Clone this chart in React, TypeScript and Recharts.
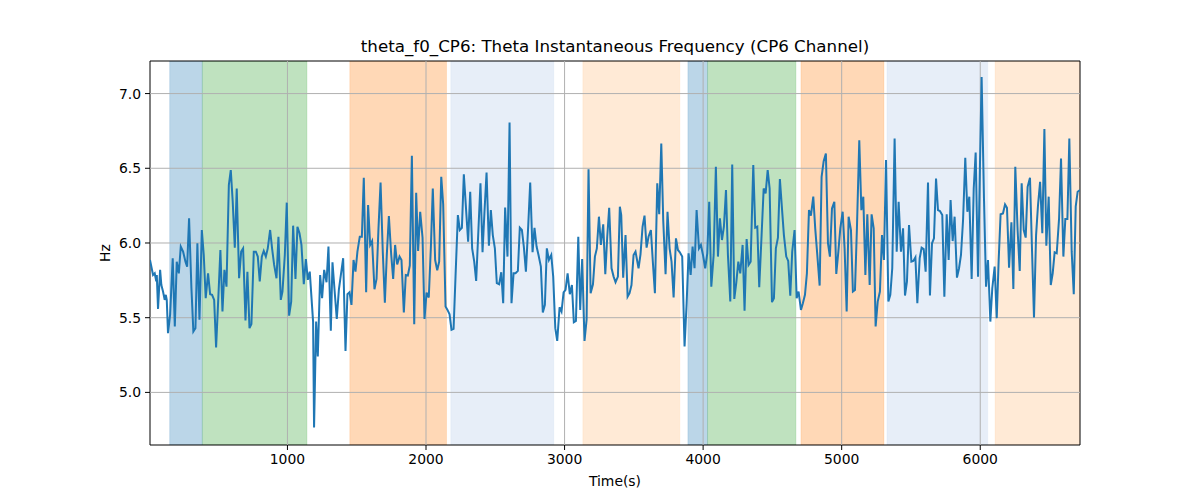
import React from "react";
import {
  LineChart,
  Line,
  XAxis,
  YAxis,
  ReferenceArea,
  ReferenceLine,
} from "recharts";

// time (s) of each sample
const times = [
  8, 30, 42, 49, 57, 66, 81, 90, 102, 114, 122, 129, 138, 153, 172, 187, 201, 216, 230, 247,
  264, 276, 290, 307, 321, 336, 350, 365, 382, 396, 410, 427, 442, 456, 471, 485, 502, 516, 531, 545,
  560, 577, 591, 605, 620, 634, 651, 666, 680, 697, 711, 726, 740, 757, 772, 786, 800, 815, 829, 844,
  858, 875, 889, 904, 921, 935, 952, 964, 981, 995, 1012, 1027, 1041, 1058, 1072, 1087, 1101, 1118, 1133, 1147,
  1161, 1185, 1192, 1207, 1219, 1236, 1250, 1265, 1282, 1296, 1313, 1325, 1339, 1356, 1371, 1387, 1402, 1419, 1433, 1448,
  1462, 1477, 1491, 1505, 1522, 1537, 1551, 1568, 1582, 1597, 1611, 1628, 1643, 1657, 1672, 1688, 1703, 1717, 1732, 1749,
  1763, 1777, 1792, 1809, 1823, 1840, 1854, 1869, 1883, 1898, 1915, 1929, 1943, 1958, 1975, 1989, 2004, 2020, 2035, 2049,
  2066, 2081, 2095, 2110, 2124, 2141, 2155, 2170, 2184, 2199, 2213, 2230, 2244, 2259, 2273, 2304, 2319, 2333, 2348, 2362,
  2393, 2408, 2422, 2437, 2454, 2468, 2482, 2497, 2511, 2528, 2543, 2557, 2571, 2588, 2603, 2617, 2632, 2646, 2663, 2677,
  2692, 2706, 2721, 2738, 2752, 2769, 2783, 2798, 2812, 2829, 2843, 2858, 2872, 2887, 2904, 2918, 2933, 2947, 2964, 2978,
  2993, 3007, 3022, 3038, 3053, 3067, 3082, 3099, 3113, 3127, 3144, 3159, 3173, 3188, 3205, 3219, 3233, 3248, 3262, 3279,
  3294, 3308, 3322, 3339, 3354, 3368, 3385, 3399, 3409, 3423, 3440, 3455, 3469, 3483, 3498, 3512, 3534, 3548, 3563, 3577,
  3592, 3606, 3623, 3637, 3652, 3669, 3683, 3698, 3712, 3729, 3743, 3758, 3772, 3787, 3804, 3818, 3832, 3849, 3866, 3881,
  3895, 3910, 3924, 3938, 3953, 3970, 3984, 3999, 4015, 4030, 4044, 4059, 4076, 4092, 4107, 4121, 4136, 4150, 4165, 4179,
  4196, 4210, 4225, 4239, 4254, 4268, 4285, 4299, 4314, 4328, 4343, 4362, 4376, 4391, 4405, 4422, 4437, 4451, 4466, 4480,
  4497, 4511, 4525, 4540, 4554, 4569, 4583, 4600, 4614, 4629, 4643, 4660, 4675, 4689, 4706, 4720, 4735, 4749, 4764, 4778,
  4795, 4809, 4824, 4841, 4855, 4870, 4886, 4901, 4915, 4930, 4947, 4961, 4976, 4990, 5007, 5021, 5036, 5050, 5067, 5081,
  5096, 5110, 5127, 5142, 5156, 5171, 5185, 5202, 5216, 5231, 5245, 5260, 5276, 5291, 5305, 5320, 5337, 5351, 5365, 5382,
  5397, 5411, 5428, 5443, 5457, 5471, 5486, 5503, 5517, 5532, 5546, 5563, 5577, 5592, 5606, 5623, 5637, 5652, 5666, 5681,
  5695, 5709, 5726, 5741, 5758, 5772, 5786, 5801, 5815, 5832, 5847, 5861, 5876, 5892, 5907, 5921, 5938, 5953, 5967, 5984,
  5998, 6010, 6027, 6042, 6056, 6073, 6087, 6104, 6119, 6133, 6147, 6164, 6179, 6193, 6208, 6225, 6239, 6253, 6270, 6285,
  6299, 6314, 6328, 6342, 6359, 6374, 6388, 6403, 6417, 6432, 6448, 6463, 6477, 6494, 6509, 6523, 6537, 6552, 6569, 6583,
  6600, 6614, 6629, 6643, 6660, 6675, 6689, 6703, 6720,
];

// theta instantaneous frequency (Hz)
const hz = [
  5.886, 5.786, 5.797, 5.764, 5.786, 5.559, 5.82, 5.719, 5.675, 5.619, 5.653, 5.619, 5.396, 5.519, 5.898, 5.441, 5.875, 5.797, 5.976, 5.942,
  5.875, 5.842, 6.165, 5.697, 5.408, 5.43, 5.998, 5.486, 6.087, 5.92, 5.63, 5.797, 5.657, 5.653, 5.619, 5.301, 5.653, 5.953, 5.541, 5.82,
  5.708, 6.388, 6.488, 6.276, 5.969, 6.365, 5.764, 5.942, 5.964, 5.481, 5.808, 5.43, 5.457, 5.942, 5.942, 5.909, 5.742, 5.909, 5.947, 5.909,
  5.964, 6.087, 5.964, 5.853, 5.764, 6.042, 5.619, 5.675, 5.92, 6.27, 5.514, 5.608, 6.116, 5.759, 6.109, 6.065, 5.987, 5.724, 5.893, 5.753,
  5.808, 5.474, 4.766, 5.474, 5.241, 5.786, 5.63, 5.82, 5.737, 5.976, 5.412, 5.871, 5.697, 5.492, 5.686, 5.797, 5.898, 5.278, 5.657, 5.67,
  5.586, 5.886, 5.808, 5.942, 6.042, 6.042, 6.437, 5.67, 6.254, 5.987, 6.013, 5.69, 5.759, 6.098, 6.405, 5.942, 5.601, 5.92, 6.18, 5.92,
  5.759, 5.987, 5.857, 5.909, 5.886, 5.535, 5.786, 5.782, 5.849, 6.584, 5.457, 6.336, 5.947, 6.209, 6.036, 5.492, 5.668, 5.635, 5.969, 6.365,
  5.886, 5.817, 5.875, 6.443, 6.258, 5.575, 5.552, 5.523, 5.419, 5.425, 5.775, 6.187, 6.087, 6.102, 6.459, 6.009, 6.343, 5.964, 5.875, 5.746,
  6.399, 5.938, 6.209, 6.472, 5.982, 6.22, 6.053, 5.964, 5.731, 5.724, 5.804, 5.597, 6.238, 5.909, 6.806, 5.597, 5.797, 5.797, 5.813, 6.102,
  6.087, 5.976, 5.808, 6.12, 6.405, 5.938, 6.102, 5.976, 5.92, 5.842, 5.535, 5.586, 5.964, 5.886, 5.92, 5.775, 5.43, 5.345, 5.57, 5.541,
  5.67, 5.686, 5.797, 5.657, 5.719, 5.47, 5.479, 6.042, 5.552, 5.893, 5.345, 5.486, 6.494, 5.664, 5.724, 5.909, 5.964, 6.176, 5.987, 6.125,
  5.791, 6.042, 6.236, 5.831, 5.775, 5.737, 5.775, 6.243, 6.187, 5.768, 6.053, 5.641, 5.664, 5.719, 5.92, 5.942, 5.831, 5.924, 6.109, 6.183,
  5.969, 6.042, 6.087, 5.875, 5.664, 6.399, 6.192, 6.666, 6.154, 5.791, 6.209, 5.964, 5.875, 5.635, 6.031, 5.953, 5.938, 5.909, 5.307, 5.597,
  5.931, 5.786, 5.976, 5.831, 6.22, 5.964, 5.987, 5.92, 5.831, 5.931, 6.276, 5.708, 5.92, 6.51, 5.909, 6.165, 6.02, 6.109, 6.354, 5.92,
  5.608, 6.526, 5.626, 5.731, 5.875, 5.797, 5.987, 5.546, 6.027, 5.853, 5.875, 6.521, 6.102, 6.109, 5.704, 6.053, 6.365, 6.332, 6.488, 6.365,
  5.604, 5.63, 5.964, 6.036, 6.428, 6.232, 6.053, 5.909, 5.88, 5.648, 5.942, 6.087, 5.63, 5.675, 5.552, 5.597, 5.653, 5.797, 6.22, 6.183,
  6.31, 6.098, 5.92, 5.715, 6.443, 6.548, 6.599, 5.998, 5.909, 6.232, 6.276, 5.793, 5.942, 6.098, 6.209, 5.964, 5.541, 6.176, 6.087, 5.675,
  5.686, 6.098, 6.688, 6.22, 6.31, 5.786, 6.192, 5.719, 6.192, 6.098, 5.441, 5.608, 5.675, 6.053, 5.886, 6.555, 5.608, 5.653, 5.831, 6.699,
  5.942, 6.276, 5.942, 6.098, 5.648, 5.742, 6.12, 5.875, 5.88, 5.904, 5.597, 5.898, 5.969, 5.96, 5.808, 6.405, 5.648, 5.998, 6.031, 6.432,
  6.22, 6.214, 6.187, 5.641, 6.192, 5.886, 6.287, 6.013, 6.176, 5.768, 5.831, 5.92, 6.154, 6.57, 6.209, 6.31, 5.759, 6.365, 6.606, 5.775,
  6.521, 7.111, 6.298, 5.708, 5.886, 5.474, 5.697, 5.842, 5.497, 5.886, 6.192, 6.198, 6.258, 6.236, 5.835, 6.138, 5.693, 6.51, 6.08, 5.813,
  6.399, 6.087, 6.036, 6.376, 6.437, 5.942, 5.501, 6.053, 6.254, 6.41, 6.065, 6.762, 5.982, 6.31, 5.719, 5.797, 5.938, 5.931, 6.165, 6.566,
  5.909, 6.16, 6.16, 6.699, 5.942, 5.657, 6.243, 6.343, 6.354,
];

// shaded phases
const bandStarts = [150, 386, 1450, 2179, 3132, 3890, 4032, 4706, 5327, 6107];
const bandEnds = [386, 1141, 2148, 2922, 3832, 4032, 4670, 5305, 6054, 6720];
const bandKinds = ["b", "g", "o", "lb", "lo", "b", "g", "o", "lb", "lo"];

const xTicks = [1000, 2000, 3000, 4000, 5000, 6000];
const yTicks = [5.0, 5.5, 6.0, 6.5, 7.0];

const X_DOMAIN: [number, number] = [8, 6720];
const Y_DOMAIN: [number, number] = [4.648, 7.218];

const bandColors: Record<string, string> = {
  b: "#1f77b4",
  g: "#2ca02c",
  o: "#ff7f0e",
  lb: "#aec7e8",
  lo: "#ffbb78",
};

const data = times.map((t, i) => ({ t, hz: hz[i] }));

const font = "'DejaVu Sans', sans-serif";
const tickStyle = { fontSize: 13.9, fill: "#000", fontFamily: font };

export default function App() {
  return (
    <div style={{ position: "absolute", left: 0, top: 0, width: 1200, height: 500, background: "#fff" }}>
      <div
        style={{
          position: "absolute",
          left: 150,
          width: 930,
          top: 36,
          textAlign: "center",
          fontFamily: font,
          fontSize: 16.7,
          lineHeight: "20px",
          color: "#000",
        }}
      >
        theta_f0_CP6: Theta Instantaneous Frequency (CP6 Channel)
      </div>
      <div
        style={{
          position: "absolute",
          left: 150,
          width: 930,
          top: 472,
          textAlign: "center",
          fontFamily: font,
          fontSize: 13.9,
          lineHeight: "18px",
          color: "#000",
        }}
      >
        Time(s)
      </div>
      <div
        style={{
          position: "absolute",
          left: 105,
          top: 253,
          transform: "translate(-50%, -50%) rotate(-90deg)",
          fontFamily: font,
          fontSize: 13.9,
          lineHeight: "18px",
          color: "#000",
        }}
      >
        Hz
      </div>
      <LineChart
        width={1200}
        height={500}
        data={data}
        margin={{ top: 61, right: 120, bottom: 0, left: 90 }}
      >
        <XAxis
          dataKey="t"
          type="number"
          domain={X_DOMAIN}
          ticks={xTicks}
          allowDataOverflow
          height={55}
          tick={tickStyle}
          tickSize={5}
          tickMargin={4}
          axisLine={false}
          tickLine={{ stroke: "#000", strokeWidth: 1 }}
        />
        <YAxis
          type="number"
          domain={Y_DOMAIN}
          ticks={yTicks}
          allowDataOverflow
          width={60}
          tick={tickStyle}
          tickSize={5}
          tickMargin={4}
          axisLine={false}
          tickLine={{ stroke: "#000", strokeWidth: 1 }}
          tickFormatter={(v: number) => v.toFixed(1)}
        />
        {bandStarts.map((s, i) => (
          <ReferenceArea
            key={`band-${i}`}
            x1={s}
            x2={bandEnds[i]}
            fill={bandColors[bandKinds[i]]}
            fillOpacity={0.3}
            stroke={bandColors[bandKinds[i]]}
            strokeOpacity={0.15}
            ifOverflow="hidden"
          />
        ))}
        {xTicks.map((t) => (
          <ReferenceLine key={`gx-${t}`} x={t} stroke="#b0b0b0" strokeWidth={1} />
        ))}
        {yTicks.map((v) => (
          <ReferenceLine key={`gy-${v}`} y={v} stroke="#b0b0b0" strokeWidth={1} />
        ))}
        <Line
          dataKey="hz"
          type="linear"
          stroke="#1f77b4"
          strokeWidth={2}
          dot={false}
          activeDot={false}
          isAnimationActive={false}
        />
        <ReferenceArea
          x1={X_DOMAIN[0]}
          x2={X_DOMAIN[1]}
          y1={Y_DOMAIN[0]}
          y2={Y_DOMAIN[1]}
          fill="none"
          stroke="#000"
          strokeWidth={1}
        />
      </LineChart>
    </div>
  );
}
